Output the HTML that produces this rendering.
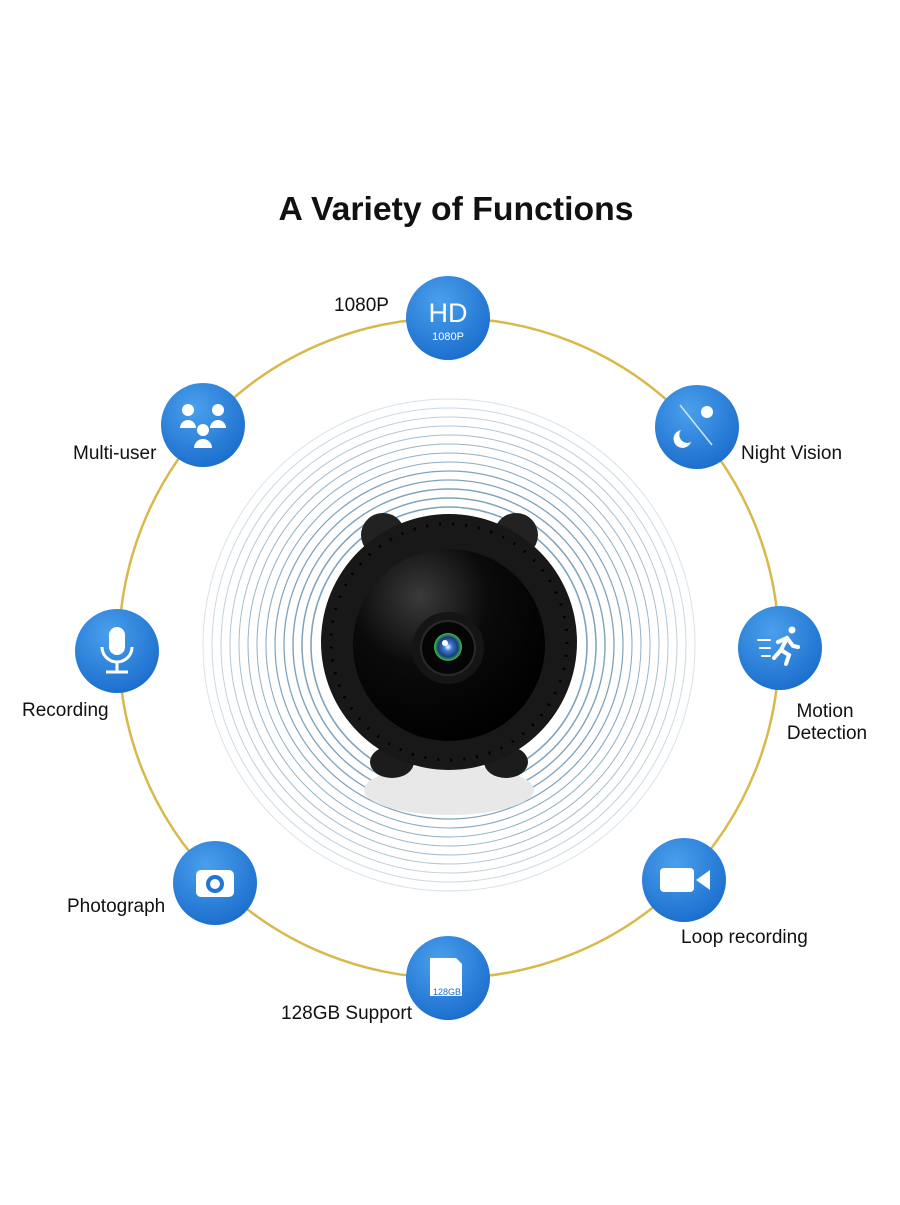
<!DOCTYPE html>
<html><head><meta charset="utf-8"><style>
body{margin:0;background:#fff;width:900px;height:1200px;overflow:hidden;font-family:"Liberation Sans",sans-serif}
</style></head><body>
<svg width="900" height="1200" viewBox="0 0 900 1200" xmlns="http://www.w3.org/2000/svg">
<defs>
<radialGradient id="ic" cx="40%" cy="30%" r="75%"><stop offset="0" stop-color="#4aa0ec"/><stop offset="1" stop-color="#1a6ccc"/></radialGradient>
<radialGradient id="face" cx="35%" cy="25%" r="80%"><stop offset="0" stop-color="#3a3a3a"/><stop offset="0.45" stop-color="#0a0a0a"/><stop offset="1" stop-color="#000"/></radialGradient>
<radialGradient id="iris" cx="50%" cy="50%" r="50%"><stop offset="0" stop-color="#fff"/><stop offset="0.3" stop-color="#3a7ad0"/><stop offset="0.7" stop-color="#1b3c7a"/><stop offset="1" stop-color="#3fbf4a"/></radialGradient>
</defs>
<text x="456" y="220" text-anchor="middle" font-size="33" font-weight="bold" fill="#111" textLength="355" lengthAdjust="spacingAndGlyphs">A Variety of Functions</text>
<circle cx="449" cy="648" r="330" fill="none" stroke="#d9b94a" stroke-width="2.5"/>
<g fill="none" stroke="#7fa3bb">
<circle cx="449" cy="645" r="138" stroke-width="1.6"/>
<circle cx="449" cy="645" r="147" stroke-width="1.5"/>
<circle cx="449" cy="645" r="156" stroke-width="1.4"/>
<circle cx="449" cy="645" r="165" stroke-width="1.3"/>
<circle cx="449" cy="645" r="174" stroke-width="1.2"/>
<circle cx="449" cy="645" r="183" stroke-width="1.1" opacity=".9"/>
<circle cx="449" cy="645" r="192" stroke-width="1" opacity=".85"/>
<circle cx="449" cy="645" r="201" stroke-width="1" opacity=".8"/>
<circle cx="449" cy="645" r="210" stroke-width="1" opacity=".7"/>
<circle cx="449" cy="645" r="219" stroke-width="1" opacity=".6"/>
<circle cx="449" cy="645" r="228" stroke-width="1" opacity=".5"/>
<circle cx="449" cy="645" r="237" stroke-width="1" opacity=".4"/>
<circle cx="449" cy="645" r="246" stroke-width="1" opacity=".3"/>
</g>
<ellipse cx="449" cy="790" rx="85" ry="25" fill="#e8e8e8"/>
<circle cx="383" cy="535" r="22" fill="#222"/><circle cx="516" cy="535" r="22" fill="#222"/>
<ellipse cx="392" cy="762" rx="22" ry="16" fill="#1c1c1c"/><ellipse cx="506" cy="762" rx="22" ry="16" fill="#1c1c1c"/>
<circle cx="449" cy="642" r="128" fill="#181818"/>
<circle cx="449" cy="642" r="118" fill="none" stroke="#000" stroke-width="3" stroke-dasharray="2 11"/>
<circle cx="449" cy="645" r="96" fill="url(#face)"/>
<circle cx="448" cy="648" r="36" fill="#151515"/>
<circle cx="448" cy="648" r="27" fill="#050505" stroke="#2a2a2a" stroke-width="2"/>
<circle cx="448" cy="647" r="14" fill="url(#iris)"/>
<circle cx="445" cy="643" r="3" fill="#fff"/>
<g>
<circle cx="448" cy="318" r="42" fill="url(#ic)"/>
<text x="448" y="322" text-anchor="middle" font-size="27" fill="#fff">HD</text>
<text x="448" y="340" text-anchor="middle" font-size="11" fill="#fff">1080P</text>
<circle cx="697" cy="427" r="42" fill="url(#ic)"/>
<line x1="680" y1="405" x2="712" y2="445" stroke="#cfe4fb" stroke-width="1.5"/>
<circle cx="707" cy="412" r="6" fill="#fff"/><path d="M681 430a9 9 0 1 0 10 12a8 8 0 0 1-10-12z" fill="#fff"/>
<circle cx="780" cy="648" r="42" fill="url(#ic)"/>
<g stroke="#fff" stroke-width="4" stroke-linecap="round" fill="none">
<circle cx="792" cy="630" r="3.5" fill="#fff" stroke="none"/>
<path d="M787 638l-6 12l8 5l-3 9"/><path d="M781 650l-7 8"/><path d="M778 642l9-4l6 8l5 1"/>
<path d="M758 640h12M760 648h10M762 656h8" stroke-width="2"/>
</g>
<circle cx="684" cy="880" r="42" fill="url(#ic)"/>
<rect x="660" y="868" width="34" height="24" rx="4" fill="#fff"/><path d="M696 880l14-10v20z" fill="#fff"/>
<circle cx="448" cy="978" r="42" fill="url(#ic)"/>
<path d="M430 958h26l6 6v32h-32z" fill="#fff"/><text x="447" y="995" text-anchor="middle" font-size="9" fill="#1a6ccc">128GB</text>
<circle cx="215" cy="883" r="42" fill="url(#ic)"/>
<rect x="196" y="870" width="38" height="27" rx="5" fill="#fff"/><circle cx="215" cy="884" r="9" fill="#1f76d4"/><circle cx="215" cy="884" r="5" fill="#fff"/>
<circle cx="117" cy="651" r="42" fill="url(#ic)"/>
<rect x="109" y="627" width="16" height="28" rx="8" fill="#fff"/><path d="M102 647a15 15 0 0 0 30 0" fill="none" stroke="#fff" stroke-width="3"/><line x1="117" y1="662" x2="117" y2="672" stroke="#fff" stroke-width="3"/><line x1="106" y1="672" x2="128" y2="672" stroke="#fff" stroke-width="3"/>
<circle cx="203" cy="425" r="42" fill="url(#ic)"/>
<circle cx="188" cy="410" r="6" fill="#fff"/><circle cx="218" cy="410" r="6" fill="#fff"/><circle cx="203" cy="430" r="6" fill="#fff"/>
<path d="M180 428a8 8 0 0 1 16 0z M210 428a8 8 0 0 1 16 0z M194 448a9 9 0 0 1 18 0z" fill="#fff"/>
</g>
<g font-size="19" fill="#111">
<text x="334" y="311">1080P</text>
<text x="741" y="459">Night Vision</text>
<text x="825" y="717" text-anchor="middle">Motion</text>
<text x="827" y="739" text-anchor="middle">Detection</text>
<text x="681" y="943">Loop recording</text>
<text x="281" y="1019">128GB Support</text>
<text x="67" y="912">Photograph</text>
<text x="22" y="716">Recording</text>
<text x="73" y="459">Multi-user</text>
</g>
</svg>
</body></html>
